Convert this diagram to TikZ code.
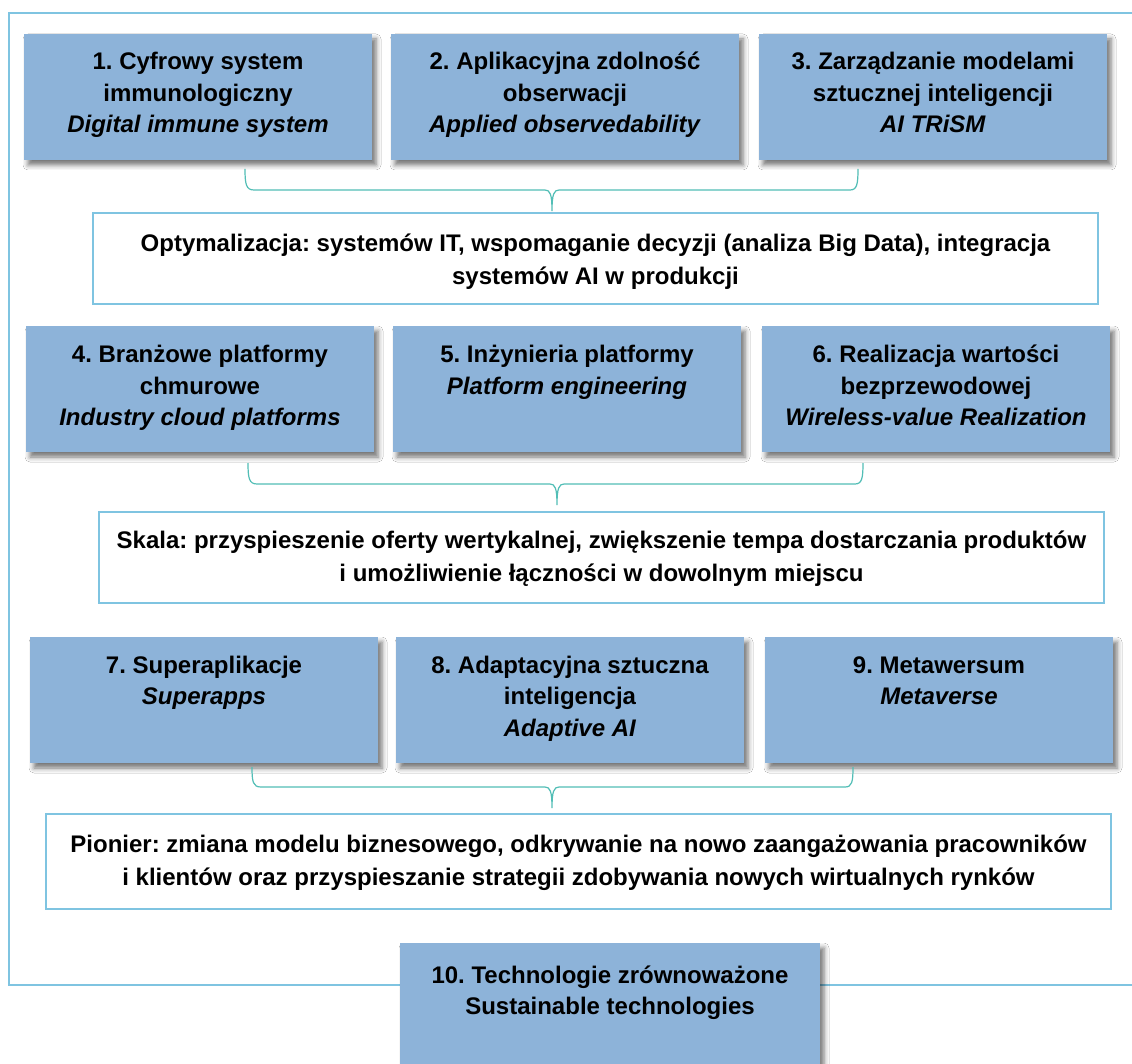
\documentclass[tikz,border=0pt]{standalone}
\usepackage{fontspec}
\setmainfont{Liberation Sans}
\usetikzlibrary{shadows.blur}
\definecolor{boxblue}{RGB}{141,179,217}
\definecolor{framecol}{RGB}{127,196,225}
\definecolor{bracecol}{RGB}{82,190,182}
\newcommand{\btxt}[4]{\parbox[c][#2pt][t]{#1pt}{\centering\frenchspacing\fontsize{24}{31.5}\selectfont\bfseries\rule{0pt}{#3pt}#4}}
\newcommand{\wtxt}[4]{\parbox[c][#2pt][t]{#1pt}{\centering\frenchspacing\fontsize{24}{33}\selectfont\bfseries\rule{0pt}{#3pt}#4}}
\begin{document}
\begin{tikzpicture}[x=1pt,y=-1pt,
  bluebox/.style={fill=boxblue, draw=none, inner sep=0pt, outer sep=0pt, anchor=north west,
    blur shadow={shadow xshift=4pt, shadow yshift=-5pt, shadow blur radius=5pt, shadow opacity=55}},
  whitebox/.style={fill=white, draw=framecol, line width=2.5pt, inner sep=0pt, outer sep=0pt, anchor=north west},
  brace/.style={draw=bracecol, line width=1.2pt},
  frameline/.style={draw=framecol, line width=2pt}]
\useasboundingbox[fill=white] (0,0) rectangle (1132,1064);
% outer frame
\coordinate (ftr) at (1132,13);
\coordinate (ftl) at (9,13);
\coordinate (fbl) at (9,985);
\coordinate (fbr) at (1132,985);
\draw[frameline] (ftr) -- (ftl) -- (fbl) -- (fbr);
% row 1
\node[bluebox] (b1) at (24,34) {\btxt{348}{126}{36}{1. Cyfrowy system\\ immunologiczny\\ \textit{Digital immune system}}};
\node[bluebox] (b2) at (391,34) {\btxt{348}{126}{36}{2. Aplikacyjna zdolność\\ obserwacji\\ \textit{Applied observedability}}};
\node[bluebox] (b3) at (759,34) {\btxt{348}{126}{36}{3. Zarządzanie modelami\\ sztucznej inteligencji\\ \textit{AI TRiSM}}};
% brace 1
\coordinate (r1l) at (245,169);
\coordinate (r1r) at (858,169);
\coordinate (r1t) at (552,211);
\draw[brace] (r1l) .. controls (245,184) and (246,190) .. (254,190) -- (545,190) .. controls (550,190) and (552,194) .. (r1t)
  .. controls (552,194) and (554,190) .. (559,190) -- (850,190) .. controls (857,190) and (858,184) .. (r1r);
\node[whitebox] (o1) at (93,213) {\wtxt{1005}{91}{39}{Optymalizacja: systemów IT, wspomaganie decyzji (analiza Big Data), integracja\\ systemów AI w produkcji}};
% row 2
\node[bluebox] (b4) at (26,326) {\btxt{348}{126}{37}{4. Branżowe platformy\\ chmurowe\\ \textit{Industry cloud platforms}}};
\node[bluebox] (b5) at (393,326) {\btxt{348}{126}{37}{5. Inżynieria platformy\\ \textit{Platform engineering}}};
\node[bluebox] (b6) at (762,326) {\btxt{348}{126}{37}{6. Realizacja wartości\\ bezprzewodowej\\ \textit{Wireless-value Realization}}};
% brace 2
\coordinate (r2l) at (248,463);
\coordinate (r2r) at (863,463);
\coordinate (r2t) at (557,505);
\draw[brace] (r2l) .. controls (248,478) and (249,484) .. (257,484) -- (550,484) .. controls (555,484) and (557,488) .. (r2t)
  .. controls (557,488) and (559,484) .. (564,484) -- (855,484) .. controls (862,484) and (863,478) .. (r2r);
\node[whitebox] (o2) at (99,512) {\wtxt{1005}{91}{36}{Skala: przyspieszenie oferty wertykalnej, zwiększenie tempa dostarczania produktów\\ i umożliwienie łączności w dowolnym miejscu}};
% row 3
\node[bluebox] (b7) at (30,637) {\btxt{348}{126}{36}{7. Superaplikacje\\ \textit{Superapps}}};
\node[bluebox] (b8) at (396,637) {\btxt{348}{126}{36}{8. Adaptacyjna sztuczna\\ inteligencja\\ \textit{Adaptive AI}}};
\node[bluebox] (b9) at (765,637) {\btxt{348}{126}{36}{9. Metawersum\\ \textit{Metaverse}}};
% brace 3
\coordinate (r3l) at (252,767);
\coordinate (r3r) at (853,767);
\coordinate (r3t) at (552,808);
\draw[brace] (r3l) .. controls (252,782) and (253,787) .. (261,787) -- (545,787) .. controls (550,787) and (552,791) .. (r3t)
  .. controls (552,791) and (554,787) .. (559,787) -- (845,787) .. controls (852,787) and (853,782) .. (r3r);
\node[whitebox] (o3) at (46,814) {\wtxt{1065}{95}{38}{Pionier: zmiana modelu biznesowego, odkrywanie na nowo zaangażowania pracowników\\ i klientów oraz przyspieszanie strategii zdobywania nowych wirtualnych rynków}};
% box 10
\node[bluebox] (b10) at (400,943) {\btxt{420}{135}{40}{10. Technologie zrównoważone\\ Sustainable technologies}};
\end{tikzpicture}
\end{document}
